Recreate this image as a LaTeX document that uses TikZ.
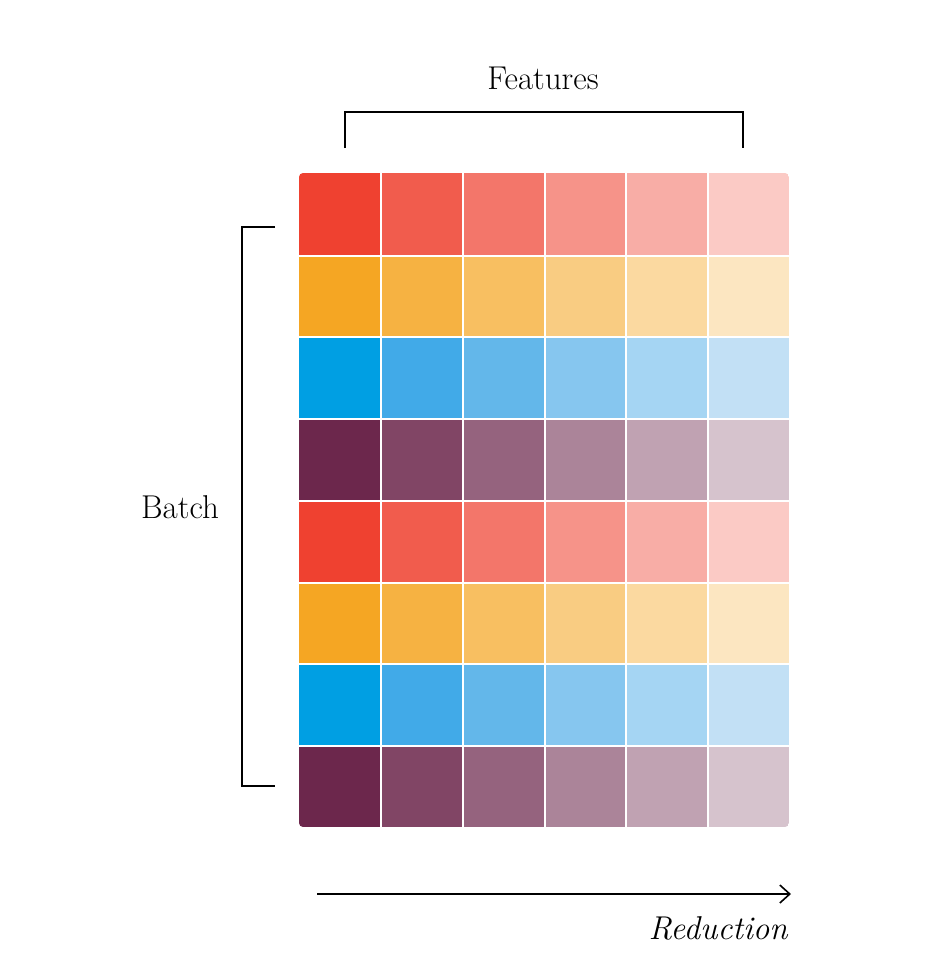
\documentclass[tikz,border=0pt]{standalone}
\usepackage{xcolor}
\usepackage{tikz}
\usetikzlibrary{arrows.meta, positioning, calc}
\definecolor{rowred}{RGB}{239,65,48}
\definecolor{roworange}{RGB}{245,166,35}
\definecolor{rowplum}{RGB}{108,39,76}
% blue ramp is not a plain tint
\definecolor{rowblue-1}{RGB}{0,159,227}
\definecolor{rowblue-2}{RGB}{65,170,232}
\definecolor{rowblue-3}{RGB}{99,183,234}
\definecolor{rowblue-4}{RGB}{134,198,239}
\definecolor{rowblue-5}{RGB}{165,213,243}
\definecolor{rowblue-6}{RGB}{194,224,245}
\foreach \c/\pct in {1/100, 2/86, 3/72, 4/57, 5/43, 6/28} {
  \xglobal\colorlet{rowred-\c}{rowred!\pct}
  \xglobal\colorlet{roworange-\c}{roworange!\pct}
  \xglobal\colorlet{rowplum-\c}{rowplum!\pct}
}

\begin{document}
\begin{tikzpicture}[
  x=0.5pt, y=-0.5pt,
  font=\fontsize{16.5}{19}\selectfont,
  cell/.style={rectangle, inner sep=0pt, anchor=north west,
               minimum width=40.84pt, minimum height=40.88pt},
  gap/.style={white, line width=1pt},
  brk/.style={black, line width=0.9pt},
  ax/.style={-{Straight Barb[length=5pt, width=9pt]}, line width=0.8pt},
  lbl/.style={inner sep=0pt}
]
\useasboundingbox (0,0) rectangle (934,966);

% grid of cells
\begin{scope}
\clip[rounded corners=2pt] (299,173) rectangle (789,827);
\foreach \base [count=\r] in {rowred, roworange, rowblue, rowplum, rowred, roworange, rowblue, rowplum} {
  \foreach \c in {1,...,6} {
    \node[cell, fill=\base-\c] (cell-\r-\c) at ({299+(\c-1)*81.67}, {173+(\r-1)*81.75}) {};
  }
}
\foreach \c in {1,...,5}
  \draw[gap] (cell-1-\c.north east) -- (cell-8-\c.south east);
\foreach \r in {1,...,7}
  \draw[gap] (cell-\r-1.south west) -- (cell-\r-6.south east);
\end{scope}

% features bracket
\coordinate (f-l) at (345,148);
\coordinate (f-r) at (743,148);
\draw[brk] (f-l) -- ++(0,-36) -| (f-r);
\node[lbl] (features) at (543,78) {Features};

% batch bracket
\coordinate (b-t) at (275,227);
\coordinate (b-b) at (275,786);
\draw[brk] (b-t) -- ++(-33,0) |- (b-b);
\node[lbl] (batch) at (180,507) {Batch};

% reduction axis
\coordinate (r-s) at (317,894);
\coordinate (r-e) at (791,894);
\draw[ax] (r-s) -- (r-e);
\node[lbl, anchor=east] (reduction) at (788,928) {\itshape Reduction};

\end{tikzpicture}
\end{document}
